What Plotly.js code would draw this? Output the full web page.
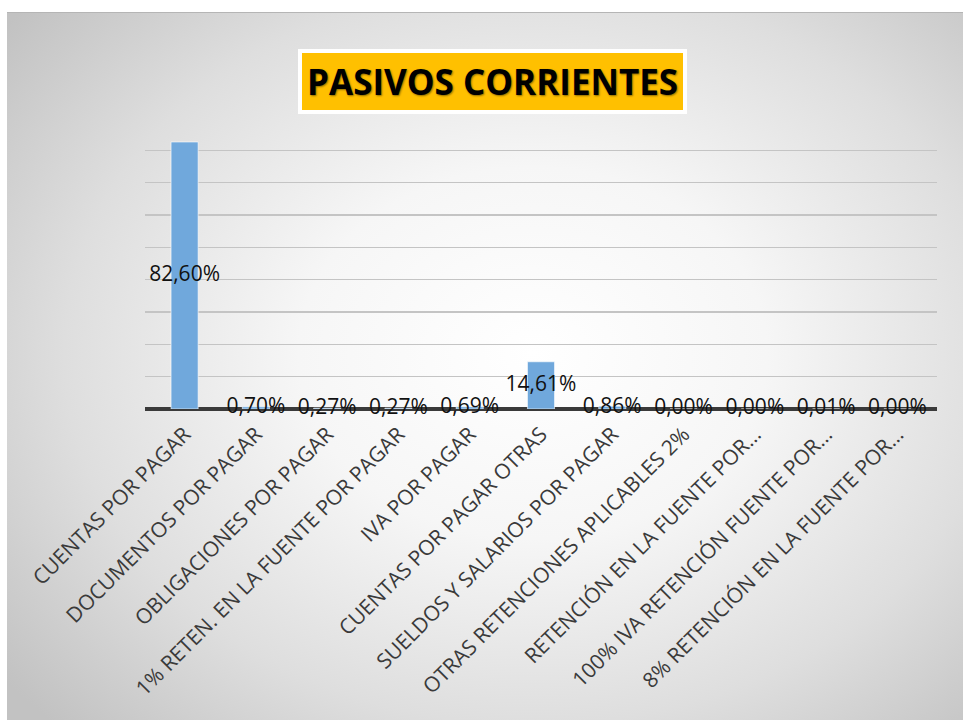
<!DOCTYPE html>
<html>
<head>
<meta charset="utf-8">
<script src="https://cdn.plot.ly/plotly-3.0.1.min.js"></script>
<style>
  html, body { margin: 0; padding: 0; background: #ffffff; width: 963px; height: 720px; overflow: hidden; }
  #bg { position: absolute; left: 7px; top: 12px; width: 956px; height: 708px;
        background: radial-gradient(ellipse 70% 75% at 55% 48%, #ffffff 0%, #f6f6f6 35%, #dedede 70%, #c2c2c2 100%);
        border-top: 1px solid #b5b5b5; }
  #chart { position: absolute; left: 0; top: 0; width: 963px; height: 720px; }
</style>
</head>
<body>
<div id="bg"></div>
<div id="chart"></div>
<script>
const categories = [
  "CUENTAS POR PAGAR",
  "DOCUMENTOS POR PAGAR",
  "OBLIGACIONES POR PAGAR",
  "1% RETEN. EN LA FUENTE POR PAGAR",
  "IVA POR PAGAR",
  "CUENTAS POR PAGAR OTRAS",
  "SUELDOS Y SALARIOS POR PAGAR",
  "OTRAS RETENCIONES APLICABLES 2%",
  "RETENCIÓN EN LA FUENTE POR…",
  "100% IVA RETENCIÓN FUENTE POR…",
  "8% RETENCIÓN EN LA FUENTE POR…"
];
const values = [82.60, 0.70, 0.27, 0.27, 0.69, 14.61, 0.86, 0.00, 0.00, 0.01, 0.00];
const titleText = "PASIVOS CORRIENTES";

const labels = values.map(v => v.toFixed(2).replace('.', ',') + '%');
const mid = values.map(v => v / 2);

const font = "'Open Sans', 'DejaVu Sans', sans-serif";

const data = [
  {
    type: 'bar',
    x: categories,
    y: values,
    marker: { color: 'rgb(112,168,220)', line: { color: 'rgba(255,255,255,0.6)', width: 1 } },
    hoverinfo: 'none'
  },
  {
    type: 'scatter',
    mode: 'text',
    x: categories,
    y: mid,
    text: labels,
    textposition: 'middle center',
    textfont: { family: font, size: 21, color: '#111111' },
    cliponaxis: false,
    hoverinfo: 'none',
    showlegend: false
  }
];

const layout = {
  width: 963,
  height: 720,
  paper_bgcolor: 'rgba(0,0,0,0)',
  plot_bgcolor: 'rgba(0,0,0,0)',
  margin: { l: 145, r: 26, t: 131, b: 311 },
  showlegend: false,
  bargap: 0.62,
  xaxis: {
    type: 'category',
    tickangle: -45,
    tickfont: { family: font, size: 21, color: '#3a3a3a' },
    ticks: '',
    showgrid: false,
    showline: false,
    ticklabelstandoff: 8,
    automargin: false
  },
  yaxis: {
    range: [0, 86],
    dtick: 10,
    showticklabels: false,
    showgrid: true,
    gridcolor: '#c4c4c4',
    gridwidth: 1.5,
    zeroline: true,
    zerolinecolor: '#3a3a3a',
    zerolinewidth: 3.5,
    ticks: '',
    automargin: false
  },
  annotations: [
    {
      xref: 'paper', yref: 'paper',
      x: (492.5 - 145) / 792, y: 1 + (131 - 81.5) / 278,
      xanchor: 'center', yanchor: 'middle',
      text: '<b>' + titleText + '</b>',
      showarrow: false,
      font: { family: font, size: 35, color: '#000000', shadow: '1px 1px 2px rgba(0,0,0,0.45)' },
      bgcolor: '#FFC000',
      bordercolor: '#ffffff',
      borderwidth: 4,
      borderpad: 5
    }
  ]
};

Plotly.newPlot('chart', data, layout, { displayModeBar: false, staticPlot: true });
</script>
</body>
</html>
